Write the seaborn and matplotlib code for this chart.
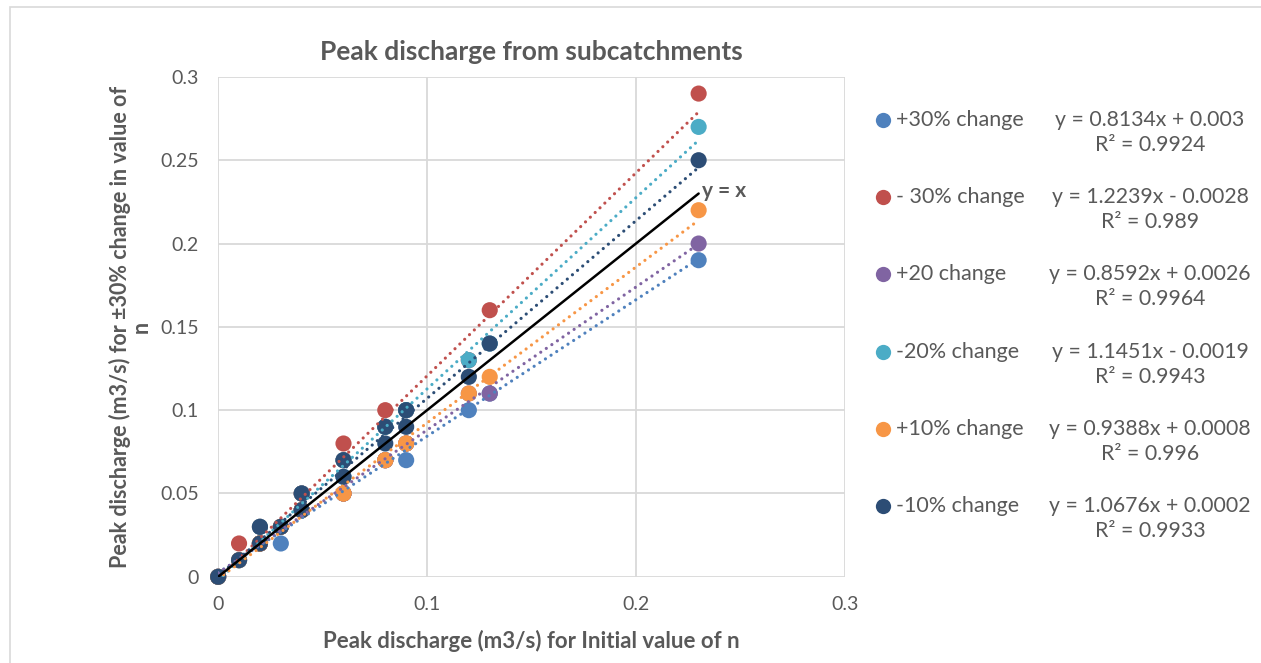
import numpy as np
import pandas as pd
import matplotlib
matplotlib.use("Agg")
import matplotlib.pyplot as plt
from matplotlib.lines import Line2D
from matplotlib.patches import Rectangle
import seaborn as sns

# peak discharge for the initial value of n (shared x values)
initial = [0, 0.01, 0.02, 0.02, 0.03, 0.04, 0.04, 0.06, 0.06, 0.08, 0.08, 0.09, 0.09, 0.12, 0.13, 0.23]

# peak discharge after changing n
plus30 = [0, 0.01, 0.02, 0.02, 0.02, 0.04, 0.04, 0.05, 0.05, 0.07, 0.07, 0.07, 0.08, 0.10, 0.11, 0.19]
minus30 = [0, 0.02, 0.02, 0.03, 0.03, 0.05, 0.05, 0.07, 0.08, 0.10, 0.09, 0.10, 0.10, 0.13, 0.16, 0.29]
plus20 = [0, 0.01, 0.02, 0.02, 0.03, 0.04, 0.04, 0.05, 0.05, 0.07, 0.07, 0.08, 0.08, 0.11, 0.11, 0.20]
minus20 = [0, 0.01, 0.02, 0.03, 0.03, 0.05, 0.04, 0.07, 0.06, 0.09, 0.09, 0.10, 0.10, 0.13, 0.14, 0.27]
plus10 = [0, 0.01, 0.02, 0.02, 0.03, 0.04, 0.04, 0.05, 0.05, 0.07, 0.07, 0.08, 0.08, 0.11, 0.12, 0.22]
minus10 = [0, 0.01, 0.02, 0.03, 0.03, 0.05, 0.04, 0.07, 0.06, 0.09, 0.08, 0.10, 0.09, 0.12, 0.14, 0.25]

labels = ["+30% change", "- 30% change", "+20 change", "-20% change", "+10% change", "-10% change"]
eq_lines = ["y = 0.8134x + 0.003", "y = 1.2239x - 0.0028", "y = 0.8592x + 0.0026",
            "y = 1.1451x - 0.0019", "y = 0.9388x + 0.0008", "y = 1.0676x + 0.0002"]
r2_lines = ["R\u00b2 = 0.9924", "R\u00b2 = 0.989", "R\u00b2 = 0.9964",
            "R\u00b2 = 0.9943", "R\u00b2 = 0.996", "R\u00b2 = 0.9933"]
colors = ["#4F81BD", "#C0504D", "#8064A2", "#4BACC6", "#F79646", "#2C4D75"]
series = [plus30, minus30, plus20, minus20, plus10, minus10]

sns.set_style("white")
plt.rcParams['font.family'] = ['Lato', 'DejaVu Sans']
grey = "#595959"

fig = plt.figure(figsize=(12.61, 6.63), dpi=100)
ax = fig.add_axes([0.173, 0.130, 0.497, 0.754])

# outer chart border
fig.add_artist(Rectangle((0.008, -0.01), 1.0, 1.0, transform=fig.transFigure,
                         fill=False, edgecolor="#D9D9D9", lw=1.2))

# markers
for vals, col in zip(series, colors):
    df = pd.DataFrame({"x": initial, "y": vals})
    sns.scatterplot(data=df, x="x", y="y", color=col, s=135, edgecolor="none", ax=ax,
                    zorder=3, clip_on=False)

# linear trendlines (dotted, above markers)
for vals, col in zip(series, colors):
    df = pd.DataFrame({"x": initial, "y": vals})
    sns.regplot(data=df, x="x", y="y", scatter=False, ci=None, truncate=True, ax=ax,
                line_kws=dict(color=col, lw=2.3, linestyle=(0, (0.01, 2.1)),
                              dash_capstyle="round", zorder=4))

# y = x reference
ref = [0, max(initial)]
ax.plot(ref, ref, color="black", lw=1.8, zorder=5)
ax.text(0.2315, 0.2315, "y = x", color=grey, fontsize=15, fontweight="bold", ha="left", va="center")

ax.set_xlim(0, 0.3)
ax.set_ylim(0, 0.3)
ax.set_xticks([0, 0.1, 0.2, 0.3])
ax.set_xticklabels(["0", "0.1", "0.2", "0.3"])
ax.set_yticks([0, 0.05, 0.1, 0.15, 0.2, 0.25, 0.3])
ax.set_yticklabels(["0", "0.05", "0.1", "0.15", "0.2", "0.25", "0.3"])
ax.grid(True, color="#D9D9D9", lw=1.3)
ax.set_axisbelow(True)
for s in ax.spines.values():
    s.set_visible(False)
ax.tick_params(axis="both", length=0, labelsize=14, labelcolor=grey, pad=14)
ax.tick_params(axis="x", pad=14)

ax.set_xlabel("Peak discharge (m3/s) for Initial value of n", fontsize=16,
              fontweight="bold", color=grey, labelpad=12)
ax.set_ylabel("Peak discharge (m3/s) for \u00b130% change in value of\nn", fontsize=15.5,
              fontweight="bold", color=grey, labelpad=6, linespacing=1.0)
ax.set_title("Peak discharge from subcatchments", fontsize=19, fontweight="bold",
             color=grey, pad=12)

# legend with trendline equations
W, H = 1261, 663
row_y = [120, 197, 274, 352, 429, 506]
for i, (lab, col) in enumerate(zip(labels, colors)):
    yy = 1 - row_y[i] / H
    fig.add_artist(Line2D([883 / W], [yy], transform=fig.transFigure, marker="o",
                          markersize=11, color=col, markeredgecolor="none", linestyle="none"))
    fig.text(896 / W, yy, lab, fontsize=15.5, color=grey, ha="left", va="center")
    fig.text(1150 / W, yy, eq_lines[i], fontsize=15.3, color=grey, ha="center", va="center")
    fig.text(1150 / W, yy - 25 / H, r2_lines[i], fontsize=15.3, color=grey, ha="center", va="center")

fig.savefig("out.png", dpi=100)
